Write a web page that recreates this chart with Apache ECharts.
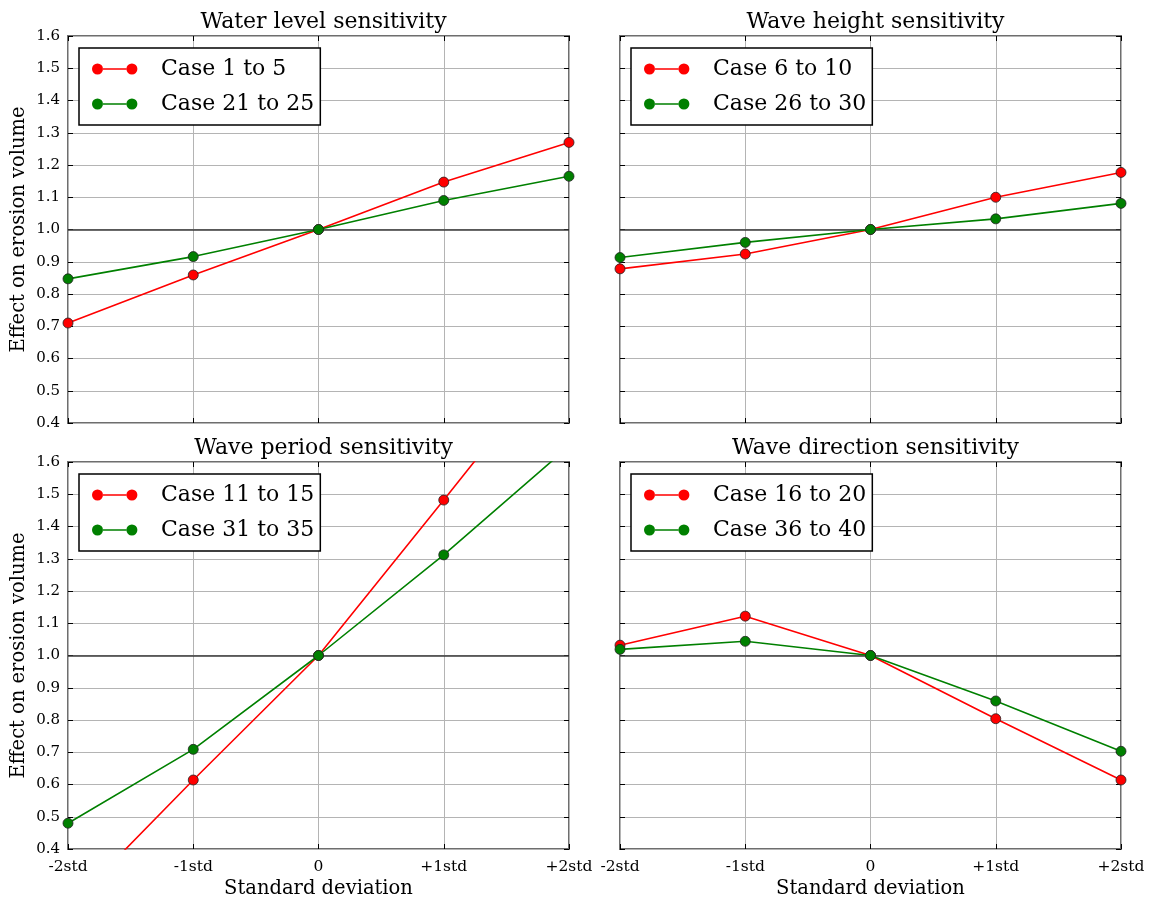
<!DOCTYPE html>
<html>
<head>
<meta charset="utf-8">
<title>Sensitivity of erosion volume</title>
<script src="https://cdn.jsdelivr.net/npm/echarts@6/dist/echarts.min.js"></script>
<style>
  html, body { margin: 0; padding: 0; background: #fff; }
  #chart { width: 1156px; height: 902px; }
</style>
</head>
<body>
<div id="chart"></div>
<script>
// Tick labels along the horizontal axis
const stdLabels = ['-2std', '-1std', '0', '+1std', '+2std'];

// Panel titles
const panelTitles = ['Water level sensitivity', 'Wave height sensitivity',
                     'Wave period sensitivity', 'Wave direction sensitivity'];

// Series names (red, green) per panel
const redNames   = ['Case 1 to 5', 'Case 6 to 10', 'Case 11 to 15', 'Case 16 to 20'];
const greenNames = ['Case 21 to 25', 'Case 26 to 30', 'Case 31 to 35', 'Case 36 to 40'];

// Effect on erosion volume, one value per std step
const waterLevelRed    = [0.710, 0.859, 1.000, 1.147, 1.270];
const waterLevelGreen  = [0.847, 0.916, 1.000, 1.090, 1.165];
const waveHeightRed    = [0.878, 0.924, 1.000, 1.100, 1.177];
const waveHeightGreen  = [0.913, 0.960, 1.000, 1.033, 1.081];
const wavePeriodRed    = [0.217, 0.614, 1.000, 1.482, 1.970];
const wavePeriodGreen  = [0.480, 0.709, 1.000, 1.312, 1.649];
const waveDirRed       = [1.032, 1.122, 1.000, 0.804, 0.614];
const waveDirGreen     = [1.019, 1.044, 1.000, 0.859, 0.703];

const redData   = [waterLevelRed, waveHeightRed, wavePeriodRed, waveDirRed];
const greenData = [waterLevelGreen, waveHeightGreen, wavePeriodGreen, waveDirGreen];

const FONT = 'DejaVu Serif';
const RED = '#ff0000', GREEN = '#008000';

// Panel geometry (px)
const W = 501, H = 387;
const lefts = [68, 620, 68, 620];
const tops  = [36, 36, 462, 462];

// Legend icon: two dots joined by a line, with room before the label
const legendIcon = 'path://M0 5.5A5.5 5.5 0 1 0 11 5.5A5.5 5.5 0 1 0 0 5.5Z' +
  'M34.4 5.5A5.5 5.5 0 1 0 45.4 5.5A5.5 5.5 0 1 0 34.4 5.5Z' +
  'M10.8 4.75L34.6 4.75L34.6 6.25L10.8 6.25Z M64 0L64 0.01L63.99 0.01Z M64 11L64 10.99L63.99 10.99Z';

const grid = [], xAxis = [], yAxis = [], series = [], legend = [], title = [];

for (let i = 0; i < 4; i++) {
  const bottomRow = i >= 2;
  const leftCol = i % 2 === 0;
  grid.push({
    left: lefts[i], top: tops[i], width: W, height: H, outerBoundsMode: 'none',
    show: true, borderColor: '#6e6e6e', borderWidth: 2, backgroundColor: 'transparent'
  });
  title.push({
    text: panelTitles[i],
    left: lefts[i] + W / 2, top: bottomRow ? 432 : 6, textAlign: 'center',
    textStyle: { fontFamily: FONT, fontSize: 22, fontWeight: 'normal', color: '#000' }
  });

  const tick = { show: true, inside: true, length: 5, lineStyle: { color: '#000', width: 1 } };
  // bottom x axis
  xAxis.push({
    gridIndex: i, type: 'category', data: stdLabels, boundaryGap: false, position: 'bottom',
    axisLine: { show: false }, axisTick: tick,
    axisLabel: { show: bottomRow, fontFamily: FONT, fontSize: 15.5, color: '#000', margin: 10 },
    splitLine: { show: true, lineStyle: { color: '#b4b4b4', width: 1 } },
    name: bottomRow ? 'Standard deviation' : '', nameLocation: 'middle', nameGap: 30,
    nameTextStyle: { fontFamily: FONT, fontSize: 19.5, color: '#000' }
  });
  // top x axis (ticks only)
  xAxis.push({
    gridIndex: i, type: 'category', data: stdLabels, boundaryGap: false, position: 'top',
    axisLine: { show: false }, axisTick: tick, axisLabel: { show: false }, splitLine: { show: false }
  });
  // left y axis
  yAxis.push({
    gridIndex: i, type: 'value', min: 0.4, max: 1.6, interval: 0.1, position: 'left',
    axisLine: { show: false }, axisTick: tick,
    axisLabel: { show: leftCol, fontFamily: FONT, fontSize: 15, color: '#000', margin: 8,
                 formatter: v => v.toFixed(1) },
    splitLine: { show: true, lineStyle: { color: '#b4b4b4', width: 1 } },
    name: leftCol ? 'Effect on erosion volume' : '', nameLocation: 'middle', nameGap: 39,
    nameTextStyle: { fontFamily: FONT, fontSize: 19.5, color: '#000' }
  });
  // right y axis (ticks only)
  yAxis.push({
    gridIndex: i, type: 'value', min: 0.4, max: 1.6, interval: 0.1, position: 'right',
    axisLine: { show: false }, axisTick: tick, axisLabel: { show: false }, splitLine: { show: false }
  });

  const common = {
    type: 'line', xAxisIndex: 2 * i, yAxisIndex: 2 * i, symbol: 'circle', symbolSize: 10,
    clip: true, animation: false, z: 3
  };
  series.push(Object.assign({}, common, {
    name: redNames[i], data: redData[i],
    lineStyle: { color: RED, width: 1.6 },
    itemStyle: { color: RED, borderColor: '#222', borderWidth: 0.8 },
    markLine: {
      silent: true, symbol: 'none', animation: false, z: 2,
      label: { show: false },
      lineStyle: { color: '#3a3a3a', width: 1.6, type: 'solid' },
      data: [{ yAxis: 1.0 }]
    }
  }));
  series.push(Object.assign({}, common, {
    name: greenNames[i], data: greenData[i],
    lineStyle: { color: GREEN, width: 1.6 },
    itemStyle: { color: GREEN, borderColor: '#222', borderWidth: 0.8 }
  }));

  legend.push({
    data: [redNames[i], greenNames[i]],
    orient: 'vertical', left: lefts[i] + 11, top: tops[i] + 12,
    icon: legendIcon, itemWidth: 64, itemHeight: 11, itemGap: 13,
    padding: [10, 6, 10, 13],
    borderColor: '#000', borderWidth: 1.5, backgroundColor: '#fff',
    itemStyle: { borderWidth: 0 },
    textStyle: { fontFamily: FONT, fontSize: 22, color: '#000' },
    selectedMode: false
  });
}

const chart = echarts.init(document.getElementById('chart'), null, { renderer: 'canvas' });
chart.setOption({
  animation: false,
  backgroundColor: '#fff',
  title, grid, xAxis, yAxis, legend, series
});
</script>
</body>
</html>
